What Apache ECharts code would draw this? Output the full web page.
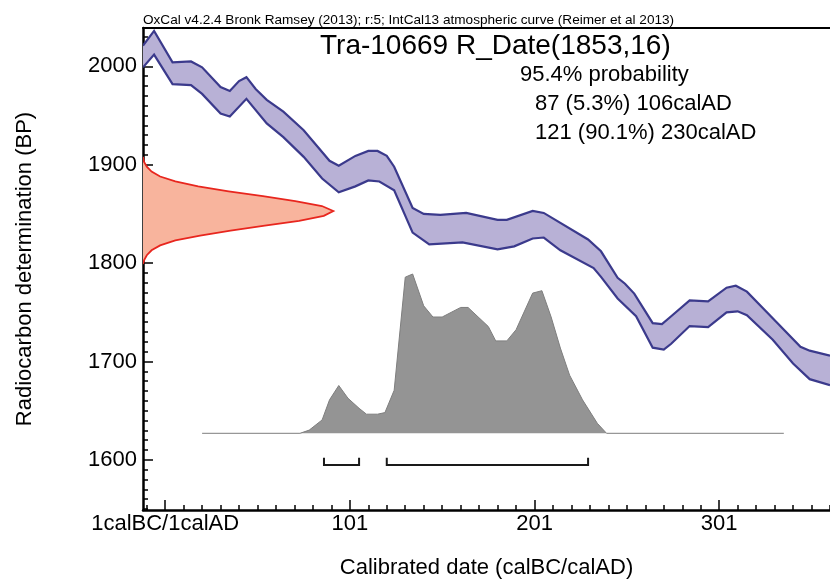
<!DOCTYPE html>
<html>
<head>
<meta charset="utf-8">
<script src="https://cdn.jsdelivr.net/npm/echarts@6/dist/echarts.min.js"></script>
<style>
  html, body { margin: 0; padding: 0; background: #fff; }
  #chart { width: 830px; height: 582px; }
</style>
</head>
<body>
<div id="chart"></div>
<script>
// IntCal13 band edges, [cal year, BP]
const curveUpper = [
  [-11, 2021], [-5, 2036], [5, 2004], [15, 2005], [21, 1999], [31, 1979], [36, 1975], [41, 1985],
  [45, 1989], [50, 1977], [56, 1966], [65, 1954], [76, 1935], [90, 1904], [95, 1899], [104, 1909],
  [111, 1914], [116, 1914], [121, 1909], [125, 1898], [135, 1856], [141, 1850], [150, 1849],
  [164, 1851], [181, 1844], [186, 1844], [200, 1853], [206, 1851], [230, 1824], [237, 1812],
  [246, 1785], [250, 1779], [255, 1769], [265, 1739], [270, 1738], [275, 1746], [285, 1762],
  [295, 1761], [305, 1775], [310, 1777], [316, 1771], [330, 1744], [345, 1715], [350, 1711], [361, 1706]
]
const curveLower = [
  [-11, 1999], [-5, 2012], [5, 1982], [15, 1981], [21, 1972], [31, 1952], [36, 1949], [45, 1967],
  [56, 1942], [65, 1928], [76, 1908], [86, 1886], [95, 1872], [104, 1878], [111, 1884], [117, 1883],
  [125, 1874], [135, 1831], [144, 1819], [162, 1821], [181, 1814], [190, 1817], [200, 1825],
  [206, 1826], [215, 1813], [233, 1795], [237, 1786], [246, 1764], [256, 1746], [265, 1714],
  [271, 1712], [275, 1718], [285, 1736], [295, 1735], [305, 1750], [311, 1751], [316, 1747],
  [330, 1722], [341, 1698], [350, 1682], [361, 1676]
]
// R_Date(1853,16) likelihood, [BP, relative]
const rDate = [
  [1908, 0], [1903, 0.005], [1898, 0.02], [1893, 0.045], [1888, 0.09], [1883, 0.17], [1878, 0.29],
  [1873, 0.45], [1868, 0.63], [1863, 0.8], [1858, 0.94], [1853, 1], [1848, 0.95], [1843, 0.82],
  [1838, 0.64], [1833, 0.46], [1828, 0.3], [1823, 0.17], [1818, 0.09], [1813, 0.045], [1808, 0.02],
  [1803, 0.006], [1799, 0]
]
// calibrated probability, [cal year, relative]
const calProb = [
  [21, 0], [74, 0], [79, 0.02], [86, 0.084], [90, 0.21], [95, 0.3], [100, 0.22], [106, 0.157],
  [110, 0.12], [116, 0.12], [120, 0.13], [125, 0.27], [131, 0.98], [135, 1], [141, 0.8], [146, 0.73],
  [151, 0.73], [161, 0.79], [165, 0.79], [176, 0.67], [180, 0.58], [186, 0.58], [191, 0.65],
  [200, 0.88], [205, 0.895], [210, 0.73], [215, 0.535], [220, 0.365], [227, 0.21], [235, 0.063],
  [240, 0], [336, 0]
]
// 95.4% ranges
const ranges = [[87, 106], [121, 230]]

const xMajor = [1, 101, 201, 301]
const yMajor = [1600, 1700, 1800, 1900, 2000]
const headerText = 'OxCal v4.2.4 Bronk Ramsey (2013); r:5; IntCal13 atmospheric curve (Reimer et al 2013)'
const titleText = 'Tra-10669 R_Date(1853,16)'
const probLines = ['95.4% probability', '87 (5.3%) 106calAD', '121 (90.1%) 230calAD']

const minorX = []
for (let v = -9; v <= 361; v += 10) minorX.push(v)
const minorY = []
for (let v = 1550; v <= 2030; v += 10) minorY.push(v)

const FONT = '"Liberation Sans", Arial, sans-serif'
const BLACK = '#000'
const X_MIN = -11, X_MAX = 361
const Y_MIN = 1549, Y_MAX = 2039
const BRACKET_BASE = -0.199, BRACKET_TOP = -0.153

const chart = echarts.init(document.getElementById('chart'))

chart.setOption({
  animation: false,
  grid: { left: 143, top: 28, right: 0, bottom: 72, outerBoundsMode: 'none' },
  xAxis: [
    {
      type: 'value', min: X_MIN, max: X_MAX, position: 'bottom',
      axisLine: { show: true, onZero: false, lineStyle: { color: BLACK, width: 2.5 } },
      axisTick: { show: true, customValues: minorX, inside: true, length: 5, lineStyle: { color: BLACK, width: 1.5 } },
      axisLabel: { show: false },
      splitLine: { show: false }
    },
    {
      type: 'value', min: X_MIN, max: X_MAX, position: 'bottom',
      name: 'Calibrated date (calBC/calAD)', nameLocation: 'middle', nameGap: 47,
      nameTextStyle: { fontFamily: FONT, fontSize: 22, color: BLACK },
      axisLine: { show: false, onZero: false },
      axisTick: { show: true, customValues: xMajor, inside: true, length: 10, lineStyle: { color: BLACK, width: 1.5 } },
      axisLabel: {
        customValues: xMajor, margin: 3, fontFamily: FONT, fontSize: 22, color: BLACK,
        formatter: (v) => v === 1 ? '1calBC/1calAD' : String(v)
      },
      splitLine: { show: false }
    },
    {
      // red likelihood scale + top frame line
      type: 'value', min: 0, max: 3.61, position: 'top',
      axisLine: { show: true, onZero: false, lineStyle: { color: BLACK, width: 2 } },
      axisTick: { show: false }, axisLabel: { show: false }, splitLine: { show: false }
    }
  ],
  yAxis: [
    {
      type: 'value', min: Y_MIN, max: Y_MAX, position: 'left',
      axisLine: { show: true, onZero: false, lineStyle: { color: BLACK, width: 2.5 } },
      axisTick: { show: true, customValues: minorY, inside: true, length: 5, lineStyle: { color: BLACK, width: 1.5 } },
      axisLabel: { show: false },
      splitLine: { show: false }
    },
    {
      type: 'value', min: Y_MIN, max: Y_MAX, position: 'left',
      name: 'Radiocarbon determination (BP)', nameLocation: 'middle', nameGap: 107,
      nameTextStyle: { fontFamily: FONT, fontSize: 22, color: BLACK },
      axisLine: { show: false, onZero: false },
      axisTick: { show: true, customValues: yMajor, inside: true, length: 10, lineStyle: { color: BLACK, width: 1.5 } },
      axisLabel: {
        customValues: yMajor, margin: 6, fontFamily: FONT, fontSize: 22, color: BLACK,
        formatter: (v) => String(v)
      },
      splitLine: { show: false }
    },
    // calibrated probability scale
    { type: 'value', min: -0.4814, max: 2.544, show: false }
  ],
  series: [
    {
      type: 'line', xAxisIndex: 0, yAxisIndex: 2,
      data: calProb, symbol: 'none', z: 2,
      lineStyle: { color: '#7e7e7e', width: 1 },
      areaStyle: { color: '#949494', opacity: 1 }
    },
    {
      // calibration curve band
      type: 'custom', xAxisIndex: 0, yAxisIndex: 0, z: 3, clip: true,
      data: [curveUpper[0]],
      renderItem: (params, api) => {
        const top = curveUpper.map(p => api.coord(p))
        const bot = curveLower.map(p => api.coord(p))
        return {
          type: 'group',
          children: [
            { type: 'polygon', shape: { points: top.concat(bot.slice().reverse()) }, style: { fill: '#b8b1d6' } },
            { type: 'polyline', shape: { points: top }, style: { stroke: '#3b3a8c', lineWidth: 2.2, fill: null } },
            { type: 'polyline', shape: { points: bot }, style: { stroke: '#3b3a8c', lineWidth: 2.2, fill: null } }
          ]
        }
      }
    },
    {
      // radiocarbon measurement
      type: 'custom', xAxisIndex: 2, yAxisIndex: 0, z: 3, clip: true,
      data: [[0, rDate[0][0]]],
      renderItem: (params, api) => {
        const pts = rDate.map(p => api.coord([p[1], p[0]]))
        const first = api.coord([0, rDate[0][0]])
        const last = api.coord([0, rDate[rDate.length - 1][0]])
        return {
          type: 'group',
          children: [
            { type: 'polygon', shape: { points: [first].concat(pts, [last]) }, style: { fill: '#f8b49d' } },
            { type: 'polyline', shape: { points: pts }, style: { stroke: '#e8261e', lineWidth: 1.8, fill: null } }
          ]
        }
      }
    },
    {
      // 95.4% range brackets
      type: 'custom', xAxisIndex: 0, yAxisIndex: 2, z: 4,
      data: ranges,
      renderItem: (params, api) => {
        const r = ranges[params.dataIndex]
        return {
          type: 'polyline',
          shape: {
            points: [
              api.coord([r[0], BRACKET_TOP]), api.coord([r[0], BRACKET_BASE]),
              api.coord([r[1], BRACKET_BASE]), api.coord([r[1], BRACKET_TOP])
            ]
          },
          style: { stroke: '#1a1a1a', lineWidth: 2, fill: null }
        }
      }
    }
  ],
  graphic: [
    { type: 'text', x: 143, y: 20, style: { text: headerText, font: '13.6px ' + FONT, fill: BLACK, verticalAlign: 'middle' } },
    { type: 'text', x: 320, y: 46, style: { text: titleText, font: '28px ' + FONT, fill: BLACK, verticalAlign: 'middle' } },
    { type: 'text', x: 520, y: 75, style: { text: probLines[0], font: '22px ' + FONT, fill: BLACK, verticalAlign: 'middle' } },
    { type: 'text', x: 535, y: 103.5, style: { text: probLines[1], font: '22px ' + FONT, fill: BLACK, verticalAlign: 'middle' } },
    { type: 'text', x: 535, y: 132.5, style: { text: probLines[2], font: '22px ' + FONT, fill: BLACK, verticalAlign: 'middle' } }
  ]
})
</script>
</body>
</html>
